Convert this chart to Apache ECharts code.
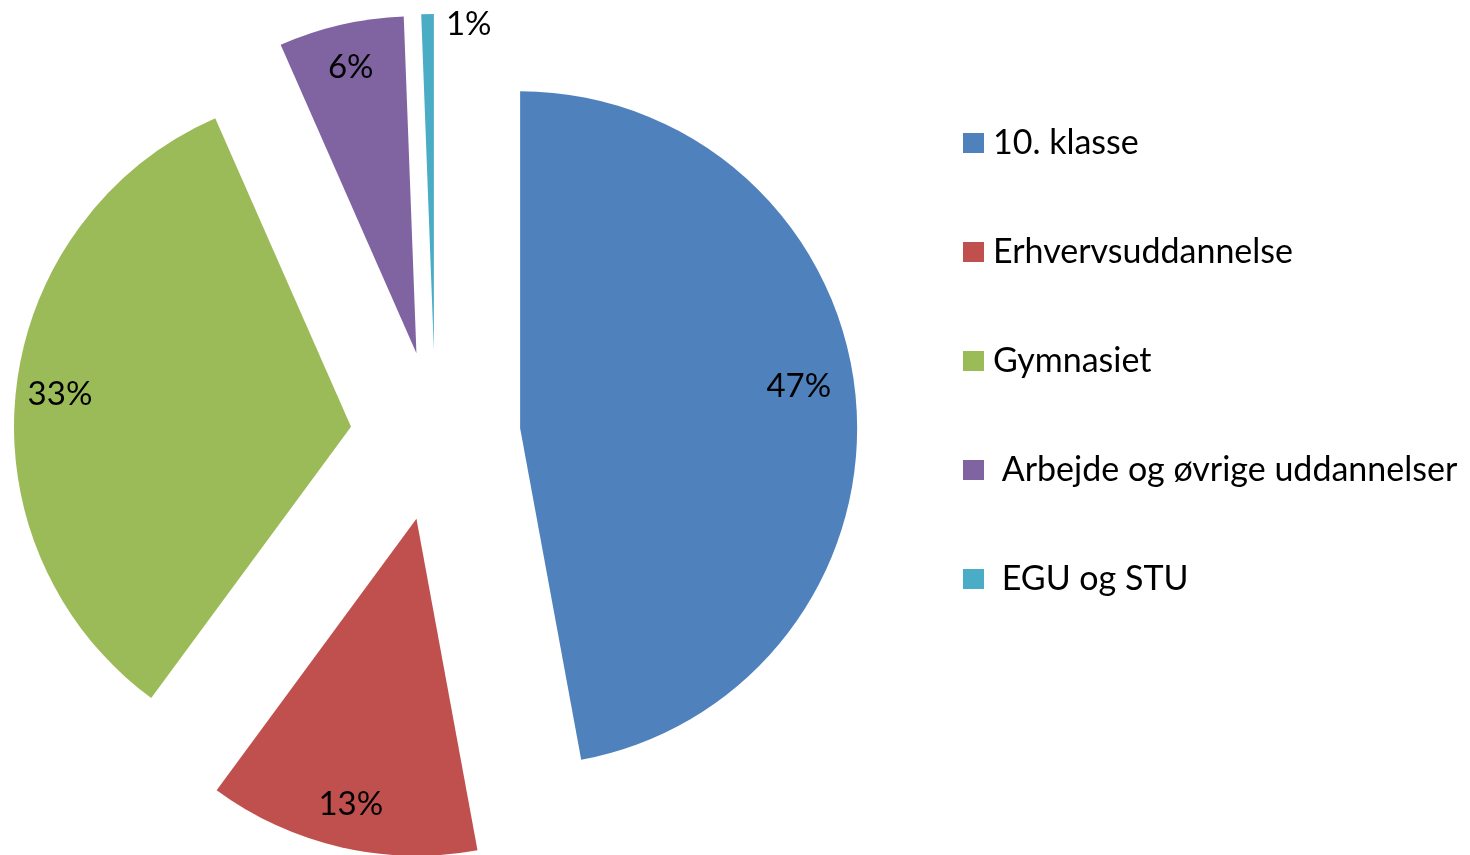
<!DOCTYPE html>
<html lang="da">
<head>
    <meta charset="UTF-8">
    <title>Fordeling</title>
    <script src="https://cdn.jsdelivr.net/npm/echarts@6.0.0/dist/echarts.min.js"></script>
    <style>
        * {
            margin: 0;
            padding: 0;
            box-sizing: border-box;
        }

        body {
            background-color: #ffffff;
        }

        #chart {
            width: 1470px;
            height: 855px;
        }
    </style>
</head>
<body>
    <div id="chart"></div>

    <script>
        // data (shares in percent)
        const categories = ['10. klasse', 'Erhvervsuddannelse', 'Gymnasiet', ' Arbejde og øvrige uddannelser', ' EGU og STU'];
        const shares = [47.1, 13.0, 33.3, 6.0, 0.6];
        const colors = ['#4F81BD', '#C0504D', '#9BBB59', '#8064A2', '#4BACC6'];

        const fontName = 'Lato, "Noto Sans", sans-serif';
        const pieCenter = [435.5, 436];
        const pieRadius = 337;
        const explode = 85;

        const chart = echarts.init(document.getElementById('chart'));

        const sliceData = categories.map(function (name, i) {
            return { name: name, value: shares[i], selected: true, itemStyle: { color: colors[i] } };
        });

        // labels sit on transparent rings so they land near the rim;
        // side padding nudges sideways, an empty second line lifts them
        const labelPadding = [[0, 26, 0, 0], 0, 0, 0, [0, 0, 0, 82]];
        const labelLift = [15, 0, 0, 0, 0];

        function ringData(showIdx) {
            return categories.map(function (name, i) {
                return {
                    name: name,
                    value: shares[i],
                    selected: true,
                    label: { show: showIdx.indexOf(i) >= 0, padding: labelPadding[i] }
                };
            });
        }

        const richLift = {};
        labelLift.forEach(function (v, i) {
            richLift['g' + i] = { lineHeight: v * 2, fontSize: 10 };
        });

        const ringLabel = {
            show: true,
            position: 'inside',
            formatter: function (p) {
                const txt = Math.round(p.percent) + '%';
                return labelLift[p.dataIndex] ? txt + '\n{g' + p.dataIndex + '| }' : txt;
            },
            fontFamily: fontName,
            fontSize: 33,
            lineHeight: 40,
            color: '#000',
            rich: richLift
        };

        function labelRing(inner, showIdx) {
            return {
                type: 'pie',
                center: pieCenter,
                radius: [pieRadius * inner, pieRadius],
                startAngle: 90,
                clockwise: true,
                selectedMode: 'multiple',
                selectedOffset: explode,
                avoidLabelOverlap: false,
                silent: true,
                legendHoverLink: false,
                itemStyle: { color: 'rgba(0,0,0,0)', borderWidth: 0 },
                label: ringLabel,
                labelLine: { show: false },
                emphasis: { disabled: true },
                data: ringData(showIdx)
            };
        }

        chart.setOption({
            animation: false,
            legend: {
                orient: 'vertical',
                left: 963,
                top: 123,
                padding: 0,
                icon: 'rect',
                itemWidth: 21,
                itemHeight: 20,
                itemGap: 69,
                data: categories,
                selectedMode: false,
                textStyle: {
                    fontFamily: fontName,
                    fontSize: 34,
                    lineHeight: 40,
                    color: '#000',
                    padding: [0, 0, 0, 4]
                }
            },
            series: [{
                type: 'pie',
                center: pieCenter,
                radius: pieRadius,
                startAngle: 90,
                clockwise: true,
                selectedMode: 'multiple',
                selectedOffset: explode,
                avoidLabelOverlap: false,
                itemStyle: { borderWidth: 0 },
                label: { show: false },
                labelLine: { show: false },
                emphasis: { disabled: true },
                data: sliceData
            },
            labelRing(0.72, [0, 1, 2, 3]),
            labelRing(0.92, [4])
            ]
        });

        window.addEventListener('resize', function () {
            chart.resize();
        });
    </script>
</body>
</html>
